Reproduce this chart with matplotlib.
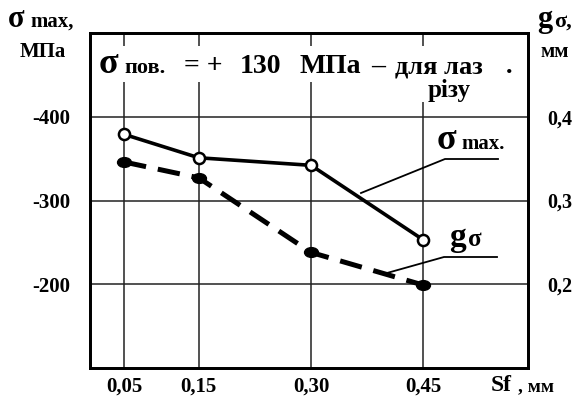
import numpy as np
import matplotlib.pyplot as plt
from matplotlib.lines import Line2D
from matplotlib.patches import Rectangle
from matplotlib.path import Path
from matplotlib.transforms import Affine2D

W, H = 580, 396

# дані
sf = [0.05, 0.15, 0.30, 0.45]
sf_labels = ['0,05', '0,15', '0,30', '0,45']
sigma_max = [-379, -351, -342, -253]     # МПа
g_sigma = [0.346, 0.327, 0.238, 0.199]   # мм

left_ticks = [-400, -300, -200]
left_labels = ['-400', '-300', '-200']
right_ticks = [0.2, 0.3, 0.4]
right_labels = ['0,2', '0,3', '0,4']

plt.rcParams['font.family'] = ['Liberation Serif', 'DejaVu Serif']
plt.rcParams['font.weight'] = 'bold'

fig = plt.figure(figsize=(W / 100, H / 100), dpi=100)
ax = fig.add_axes([90 / W, 1 - 368 / H, (528 - 90) / W, (368 - 33) / H])
ax2 = ax.twinx()

ax.set_xlim(0.0045, 0.59)
ax.set_ylim(-100, -500)
ax2.set_ylim(0.1, 0.5)

ax.set_xticks(sf)
ax.set_xticklabels(sf_labels, fontsize=15, fontweight='bold')
ax.set_yticks(left_ticks)
ax.set_yticklabels(left_labels, fontsize=15, fontweight='bold')
ax2.set_yticks(right_ticks)
ax2.set_yticklabels(right_labels, fontsize=14.5, fontweight='bold')
ax.tick_params(length=0, pad=14)
ax2.tick_params(length=0, pad=14)
ax.tick_params(axis='x', pad=6)

ax.grid(True, color='#222222', lw=1.1)
ax.set_axisbelow(True)
for a in (ax, ax2):
    for s in a.spines.values():
        s.set_linewidth(2.0)
        s.set_color('black')

# приплюснутий маркер для g
blob = Path.unit_circle().transformed(Affine2D().scale(1.35, 0.95))

# криві
ax.plot(sf, sigma_max, color='black', lw=2.6, marker='o', ms=8,
        mfc='white', mec='black', mew=1.8, zorder=4)
ax2.plot(sf, g_sigma, color='black', lw=3.6, dashes=(4.5, 2.4),
         marker=blob, ms=10, mfc='black', mec='black', zorder=4)


def ftxt(x, y, s, size, **kw):
    return fig.text(x / W, 1 - y / H, s, fontsize=size, fontweight='bold',
                    va='baseline', **kw)


def fline(xs, ys):
    fig.add_artist(Line2D(np.array(xs) / W, 1 - np.array(ys) / H,
                          color='black', lw=1.3))


def fwhite(x0, y0, x1, y1):
    fig.add_artist(Rectangle((x0 / W, 1 - y1 / H), (x1 - x0) / W,
                             (y1 - y0) / H, facecolor='white',
                             edgecolor='none', transform=fig.transFigure))


# підписи осей
ftxt(8, 27, 'σ', 22)
ftxt(30, 27, 'max,', 15)
ftxt(20, 57, 'МПа', 15)
ftxt(537, 27, 'g', 22)
ftxt(554, 27, 'σ,', 16)
ftxt(540, 57, 'мм', 15)
ftxt(491, 391, 'Sf', 17)
ftxt(518, 391, ', мм', 14)

# заголовок у полі графіка
fwhite(95, 46, 523, 82)
fwhite(422, 82, 486, 102)
ftxt(99, 73, 'σ', 26)
ftxt(124, 73, 'пов.', 16)
ftxt(184, 73, '= +', 20)
ftxt(240, 73, '130', 20)
ftxt(300, 73, 'МПа', 20)
ftxt(371, 73, '–', 20)
ftxt(395, 73, 'для лаз', 19)
ftxt(506, 73, '.', 19)
ftxt(428, 97, 'різу', 18)

# виноски
ftxt(437, 149, 'σ', 26)
ftxt(461, 149, 'max.', 15)
fline([361, 445, 498], [193, 159, 159])
ftxt(449, 246, 'g', 24)
ftxt(468, 246, 'σ', 18)
fline([387, 444, 497], [273, 257, 257])

fig.savefig('out.png', dpi=100)
